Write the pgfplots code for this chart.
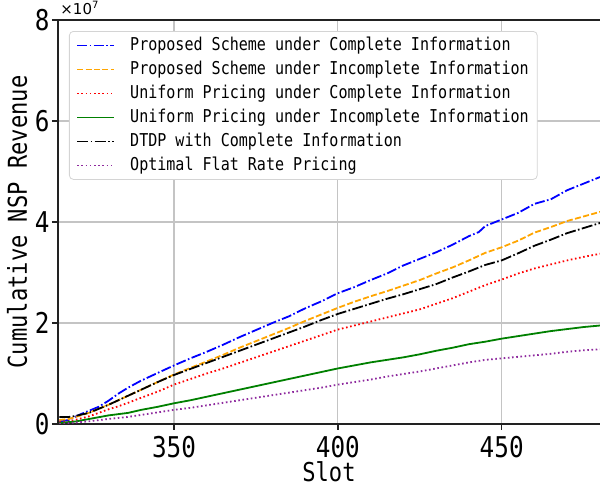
\documentclass[border=0pt]{standalone}
\usepackage{pgfplots}
\pgfplotsset{compat=1.18}
\usepackage{fontspec}
\newfontfamily\simhei[FakeStretch=0.85]{DejaVu Sans Mono}
\newfontfamily\djv{DejaVu Sans}
\definecolor{mplblue}{rgb}{0,0,1}
\definecolor{mplred}{rgb}{1,0,0}
\definecolor{mplorange}{HTML}{FFA500}
\definecolor{mplgreen}{HTML}{008000}
\definecolor{mplpurple}{HTML}{8E2A9E}
\definecolor{gridc}{HTML}{C4C4C4}
\definecolor{legc}{HTML}{D4D4D4}
\definecolor{spine}{HTML}{222222}
\newcommand{\lf}{\simhei\fontsize{8.85}{8.85}\selectfont}
\begin{document}
\begin{tikzpicture}
\begin{axis}[
  scale only axis, width=271pt, height=202pt,
  at={(0,0)}, anchor=south west,
  xmin=314.6, xmax=480, ymin=0, ymax=8,
  axis x line*=box, axis y line*=left,
  xtick={350,400,450}, ytick={0,2,4,6,8},
  xtick pos=bottom, ytick pos=left,
  tick align=outside, major tick length=3pt,
  grid=major, major grid style={line width=0.6pt, gridc},
  axis line style={line width=0.9pt, spine},
  tick style={line width=0.8pt, spine},
  ticklabel style={font=\simhei\fontsize{14.3}{14.3}\selectfont},
  /pgf/number format/assume math mode=true,
  xticklabel style={inner sep=1pt, yshift=-2pt},
  yticklabel style={inner sep=1pt},
  every axis x label/.style={at={(axis description cs:0.5,-0.142)}, anchor=base},
  every axis y label/.style={at={(axis description cs:-0.0572,0.5)}, rotate=90, anchor=base},
  label style={font=\simhei\fontsize{13}{13}\selectfont},
  xlabel={Slot}, ylabel={Cumulative NSP Revenue},
  legend cell align=left,
  legend style={at={(0.0203,0.9728)}, anchor=north west, draw=legc,
    rounded corners=2pt, fill=white,
    inner xsep=3.5pt, inner ysep=1pt,
    nodes={inner sep=0pt, minimum height=12pt}, column sep=7.5pt},
  legend image code/.code={\draw[#1, line width=0.9pt, rounded corners=0pt] (0pt,0pt) -- (18.5pt,0pt);},
]
\addplot[color=mplblue, line width=0.9pt, dash pattern=on 5pt off 1.2pt on 0.8pt off 1.2pt] coordinates {
(315,0.05)(318,0.08)(321,0.18)(324,0.26)(327,0.34)(330,0.46)(333,0.60)(336,0.72)
(340,0.86)(345,1.01)(350,1.16)(355,1.30)(360,1.43)(365,1.57)(370,1.72)(375,1.86)
(380,2.00)(385,2.13)(390,2.29)(395,2.43)(400,2.59)(405,2.71)(410,2.85)(415,2.98)
(420,3.14)(425,3.27)(430,3.40)(435,3.55)(440,3.72)(443,3.80)(445,3.92)(450,4.05)
(455,4.18)(460,4.36)(465,4.45)(470,4.63)(475,4.76)(480,4.89)};
\addlegendentry{\lf\makebox[200pt][l]{Proposed Scheme under Complete Information}}
\addplot[color=mplorange, line width=0.9pt, dash pattern=on 3pt off 1.2pt] coordinates {
(315,0.08)(318,0.10)(321,0.16)(324,0.22)(327,0.30)(330,0.38)(333,0.47)(336,0.56)
(340,0.68)(345,0.83)(350,0.98)(355,1.11)(360,1.24)(365,1.37)(370,1.51)(375,1.64)
(380,1.77)(385,1.90)(390,2.04)(395,2.17)(400,2.30)(405,2.42)(410,2.53)(415,2.63)
(420,2.74)(425,2.85)(430,2.98)(435,3.10)(440,3.24)(445,3.39)(450,3.50)(455,3.63)
(460,3.79)(465,3.90)(470,4.02)(475,4.11)(480,4.20)};
\addlegendentry{\lf Proposed Scheme under Incomplete Information}
\addplot[color=mplred, line width=0.9pt, dash pattern=on 0.8pt off 1.3pt] coordinates {
(315,0.04)(318,0.05)(321,0.10)(324,0.15)(327,0.22)(330,0.29)(333,0.35)(336,0.42)
(340,0.52)(345,0.64)(350,0.78)(355,0.89)(360,1.00)(365,1.10)(370,1.21)(375,1.32)
(380,1.43)(385,1.54)(390,1.65)(395,1.76)(400,1.87)(405,1.95)(410,2.03)(415,2.11)
(420,2.19)(425,2.27)(430,2.38)(435,2.49)(440,2.62)(445,2.75)(450,2.86)(455,2.98)
(460,3.08)(465,3.16)(470,3.24)(475,3.31)(480,3.37)};
\addlegendentry{\lf Uniform Pricing under Complete Information}
\addplot[color=mplgreen, line width=0.9pt] coordinates {
(315,0.02)(320,0.05)(325,0.11)(330,0.17)(336,0.22)(340,0.28)(345,0.34)(350,0.41)
(355,0.47)(360,0.54)(365,0.61)(370,0.68)(375,0.75)(380,0.82)(385,0.89)(390,0.96)
(395,1.03)(400,1.10)(405,1.16)(410,1.22)(415,1.27)(420,1.32)(425,1.38)(430,1.45)
(435,1.51)(440,1.58)(445,1.63)(450,1.69)(455,1.74)(460,1.79)(465,1.84)(470,1.88)
(475,1.92)(480,1.95)};
\addlegendentry{\lf Uniform Pricing under Incomplete Information}
\addplot[color=black, line width=0.9pt, dash pattern=on 5.5pt off 1.2pt on 0.8pt off 1.2pt] coordinates {
(315,0.14)(318,0.14)(320,0.16)(324,0.22)(327,0.30)(330,0.38)(333,0.47)(336,0.56)
(340,0.68)(345,0.83)(350,0.97)(355,1.09)(360,1.21)(365,1.33)(370,1.45)(375,1.57)
(380,1.69)(385,1.81)(390,1.93)(395,2.06)(400,2.18)(405,2.28)(410,2.38)(415,2.48)
(420,2.57)(425,2.67)(430,2.77)(435,2.90)(440,3.02)(445,3.15)(450,3.24)(455,3.38)
(460,3.53)(465,3.65)(470,3.78)(475,3.88)(480,3.98)};
\addlegendentry{\lf DTDP with Complete Information}
\addplot[color=mplpurple, line width=0.9pt, dash pattern=on 0.8pt off 1.3pt] coordinates {
(315,0.00)(320,0.03)(325,0.06)(330,0.10)(336,0.14)(340,0.18)(345,0.23)(350,0.28)
(355,0.32)(360,0.37)(365,0.42)(370,0.47)(375,0.52)(380,0.57)(385,0.62)(390,0.67)
(395,0.72)(400,0.78)(405,0.83)(410,0.88)(415,0.94)(420,0.99)(425,1.04)(430,1.10)
(435,1.16)(440,1.22)(445,1.27)(450,1.30)(455,1.33)(460,1.36)(465,1.39)(470,1.43)
(475,1.46)(480,1.48)};
\addlegendentry{\lf Optimal Flat Rate Pricing}
\end{axis}
\node[anchor=base west, inner sep=0pt, font=\djv\fontsize{7.5}{7.5}\selectfont] at (1pt,204.5pt) {×10\raisebox{3.2pt}{\fontsize{5}{5}\selectfont 7}};
\pgfresetboundingbox
\useasboundingbox (-29pt,-31pt) rectangle (271pt,212pt);
\end{tikzpicture}
\end{document}
